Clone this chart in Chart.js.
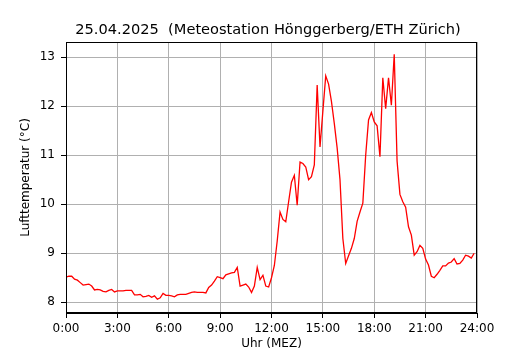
<!DOCTYPE html>
<html>
<head>
<meta charset="utf-8">
<script src="https://cdn.jsdelivr.net/npm/chart.js@4/dist/chart.umd.min.js"></script>
<style>
  html, body { margin: 0; padding: 0; background: #ffffff; }
  canvas { display: block; }
</style>
</head>
<body>
<canvas id="c" width="530" height="350"></canvas>
<script>
// 10-minute temperature readings, 0:00 .. 23:50
const stepMinutes = 10;
const temperatures = [
  8.51, 8.53, 8.53, 8.47, 8.45, 8.40, 8.35, 8.36, 8.37, 8.33,
  8.25, 8.26, 8.25, 8.22, 8.21, 8.24, 8.26, 8.21, 8.23, 8.23,
  8.23, 8.24, 8.24, 8.24, 8.15, 8.15, 8.16, 8.11, 8.12, 8.14,
  8.10, 8.13, 8.06, 8.09, 8.18, 8.14, 8.14, 8.13, 8.11, 8.15,
  8.16, 8.16, 8.16, 8.18, 8.20, 8.21, 8.20, 8.20, 8.20, 8.19,
  8.30, 8.35, 8.43, 8.52, 8.50, 8.48, 8.56, 8.58, 8.60, 8.61,
  8.71, 8.33, 8.35, 8.37, 8.31, 8.20, 8.33, 8.71, 8.46, 8.55,
  8.33, 8.31, 8.50, 8.75, 9.25, 9.84, 9.69, 9.64, 10.05, 10.45,
  10.59, 9.98, 10.86, 10.83, 10.76, 10.50, 10.56, 10.80, 12.43, 11.17,
  11.90, 12.62, 12.45, 12.10, 11.65, 11.15, 10.50, 9.30, 8.79, 8.95,
  9.10, 9.30, 9.65, 9.84, 10.02, 11.00, 11.72, 11.87, 11.68, 11.60,
  10.97, 12.58, 11.95, 12.58, 12.02, 13.06, 10.88, 10.20, 10.05, 9.94,
  9.54, 9.37, 8.96, 9.03, 9.16, 9.10, 8.88, 8.76, 8.53, 8.50,
  8.57, 8.65, 8.74, 8.74, 8.80, 8.82, 8.89, 8.78, 8.79, 8.86,
  8.96, 8.94, 8.90, 9.00
];
const xTickHours = [0, 3, 6, 9, 12, 15, 18, 21, 24];
const yTickValues = [8, 9, 10, 11, 12, 13];
const titleText = '25.04.2025  (Meteostation Hönggerberg/ETH Zürich)';
const xAxisTitle = 'Uhr (MEZ)';
const yAxisTitle = 'Lufttemperatur (°C)';

const points = temperatures.map((t, i) => ({ x: i * stepMinutes / 60, y: t }));

const FONT = "'DejaVu Sans', sans-serif";

const frame = {
  id: 'frame',
  afterDatasetsDraw(chart) {
    const a = chart.chartArea, ctx = chart.ctx;
    ctx.save();
    ctx.strokeStyle = '#000';
    ctx.lineWidth = 1;
    const l = Math.round(a.left) + 0.5, r = Math.round(a.right) - 0.5;
    const t = Math.round(a.top) + 0.5, b = Math.round(a.bottom) - 0.5;
    ctx.strokeRect(l, t, r - l, b - t);
    ctx.restore();
  }
};

new Chart(document.getElementById('c'), {
  type: 'line',
  data: {
    datasets: [{
      data: points,
      borderColor: '#ff0000',
      borderWidth: 1.3,
      pointRadius: 0,
      tension: 0,
      fill: false,
      yAxisID: 'y'
    }]
  },
  options: {
    responsive: false,
    devicePixelRatio: 1,
    animation: false,
    layout: { padding: { left: 6, right: 0, top: 0, bottom: 0 } },
    plugins: {
      legend: { display: false },
      tooltip: { enabled: false },
      title: {
        display: true,
        text: titleText,
        color: '#000',
        font: { family: FONT, size: 14.6, weight: 'normal', lineHeight: 1.2 },
        padding: { top: 21.5, bottom: 3 }
      }
    },
    scales: {
      x: {
        type: 'linear',
        min: 0,
        max: 24,
        afterBuildTicks: s => { s.ticks = xTickHours.map(v => ({ value: v })); },
        afterFit: s => { s.height = 37; },
        grid: { color: '#b0b0b0', lineWidth: 1, tickColor: '#000', tickLength: 5 },
        border: { color: '#000', width: 1 },
        ticks: {
          color: '#000', padding: 4, maxRotation: 0, autoSkip: false,
          font: { family: FONT, size: 12 },
          callback: v => v + ':00'
        },
        title: {
          display: true, text: xAxisTitle, color: '#000',
          font: { family: FONT, size: 12, lineHeight: 1.2 },
          padding: { top: 0, bottom: -1.5 }
        }
      },
      y: {
        type: 'linear',
        position: 'left',
        min: 7.78,
        max: 13.31,
        afterBuildTicks: s => { s.ticks = yTickValues.map(v => ({ value: v })); },
        afterFit: s => { s.width = 60; },
        grid: { color: '#b0b0b0', lineWidth: 1, tickColor: '#000', tickLength: 5 },
        border: { color: '#000', width: 1 },
        ticks: {
          color: '#000', padding: 6, autoSkip: false,
          font: { family: FONT, size: 12 },
          callback: v => String(v)
        },
        title: {
          display: true, text: yAxisTitle, color: '#000',
          font: { family: FONT, size: 12, lineHeight: 1.2 },
          padding: { top: 12.8, bottom: 0 }
        }
      },
      spacer: {
        type: 'linear',
        position: 'right',
        display: true,
        min: 0,
        max: 1,
        afterFit: s => { s.width = 53; },
        grid: { display: false, drawTicks: false },
        border: { display: false },
        ticks: { display: false },
        title: { display: false }
      }
    }
  },
  plugins: [frame]
});
</script>
</body>
</html>
